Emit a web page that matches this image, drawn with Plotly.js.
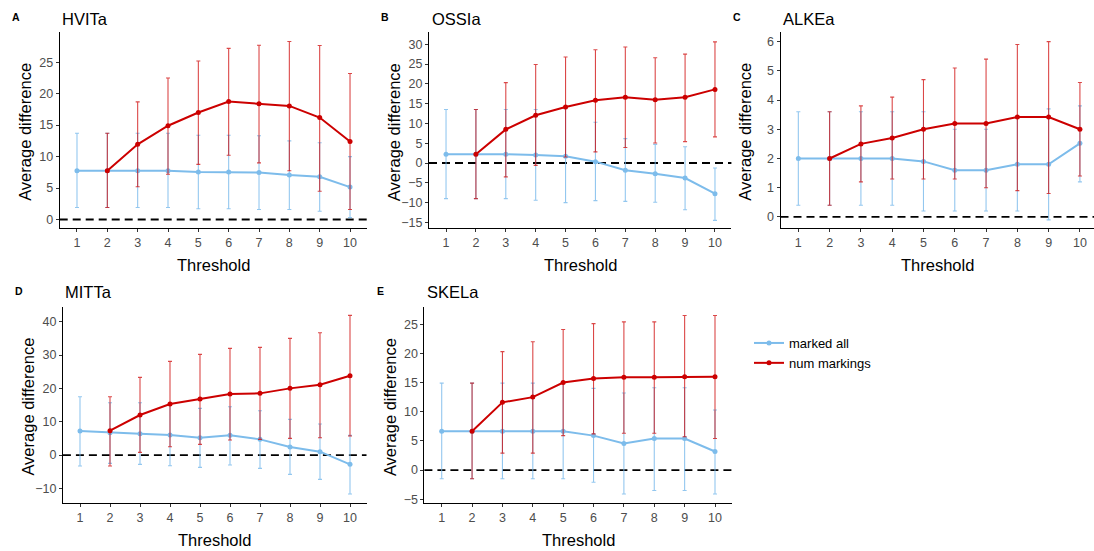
<!DOCTYPE html>
<html>
<head>
<meta charset="utf-8">
<script src="https://cdn.plot.ly/plotly-3.0.1.min.js"></script>
<style>
  html, body { margin: 0; padding: 0; background: #fff; }
  #chart { width: 1094px; height: 551px; }
</style>
</head>
<body>
<div id="chart"></div>
<script>
// ---- Data ----
const threshold = [1, 2, 3, 4, 5, 6, 7, 8, 9, 10];
const thresholdNum = [2, 3, 4, 5, 6, 7, 8, 9, 10];
const seriesNames = ["marked all", "num markings"];
const panelNames = ["HVITa", "OSSIa", "ALKEa", "MITTa", "SKELa"];
const panelLetters = ["A", "B", "C", "D", "E"];

// HVITa
const hvitaMarkedMean  = [7.75, 7.75, 7.75, 7.75, 7.54, 7.54, 7.48, 7.06, 6.8, 5.15];
const hvitaMarkedUpper = [13.7, 13.7, 13.7, 13.7, 13.4, 13.4, 13.3, 12.5, 12.2, 10.0];
const hvitaMarkedLower = [1.9, 1.9, 1.9, 1.9, 1.7, 1.7, 1.6, 1.6, 1.3, 0.3];
const hvitaNumMean  = [7.75, 11.94, 14.9, 17.0, 18.74, 18.4, 18.05, 16.2, 12.4];
const hvitaNumUpper = [13.7, 18.7, 22.5, 25.2, 27.2, 27.7, 28.3, 27.65, 23.2];
const hvitaNumLower = [1.9, 5.2, 7.2, 8.76, 10.2, 9.0, 7.75, 4.5, 1.6];

// OSSIa
const ossiaMarkedMean  = [2.2, 2.2, 2.2, 2.0, 1.7, 0.34, -1.85, -2.7, -3.8, -7.75];
const ossiaMarkedUpper = [13.5, 13.5, 13.5, 13.5, 13.7, 10.3, 6.15, 4.7, 4.1, -1.26];
const ossiaMarkedLower = [-9.0, -9.0, -9.0, -9.4, -10.0, -9.5, -9.7, -9.9, -11.8, -14.5];
const ossiaNumMean  = [2.2, 8.5, 12.05, 14.15, 15.84, 16.6, 16.0, 16.6, 18.6];
const ossiaNumUpper = [13.5, 20.3, 24.9, 26.8, 28.6, 29.3, 26.6, 27.5, 30.6];
const ossiaNumLower = [-9.0, -3.5, -0.6, 1.5, 2.8, 3.9, 5.05, 5.4, 6.6];

// ALKEa
const alkeaMarkedMean  = [2.0, 2.0, 2.0, 2.0, 1.9, 1.6, 1.6, 1.8, 1.8, 2.52];
const alkeaMarkedUpper = [3.6, 3.6, 3.6, 3.6, 3.6, 3.0, 3.0, 3.43, 3.7, 3.8];
const alkeaMarkedLower = [0.4, 0.4, 0.4, 0.4, 0.2, 0.2, 0.2, 0.2, -0.1, 1.2];
const alkeaNumMean  = [2.0, 2.5, 2.7, 3.0, 3.2, 3.2, 3.42, 3.42, 3.0];
const alkeaNumUpper = [3.6, 3.8, 4.1, 4.7, 5.1, 5.4, 5.9, 6.0, 4.6];
const alkeaNumLower = [0.4, 1.2, 1.3, 1.3, 1.3, 1.0, 0.9, 0.8, 1.4];

// MITTa
const mittaMarkedMean  = [7.2, 6.7, 6.4, 6.0, 5.2, 5.9, 4.7, 2.4, 1.0, -2.8];
const mittaMarkedUpper = [17.5, 15.7, 15.7, 15.2, 14.0, 14.5, 13.3, 10.7, 9.3, 5.9];
const mittaMarkedLower = [-3.3, -2.5, -2.8, -3.2, -3.7, -3.0, -4.0, -5.8, -7.3, -11.7];
const mittaNumMean  = [7.3, 12.0, 15.3, 16.8, 18.3, 18.5, 20.0, 21.1, 23.8];
const mittaNumUpper = [17.5, 23.3, 28.1, 30.2, 32.0, 32.3, 35.0, 36.7, 41.9];
const mittaNumLower = [-3.3, 0.8, 2.5, 3.2, 4.5, 4.7, 5.0, 5.2, 5.7];

// SKELa
const skelaMarkedMean  = [6.66, 6.66, 6.66, 6.66, 6.66, 5.9, 4.54, 5.4, 5.4, 3.17];
const skelaMarkedUpper = [14.9, 14.9, 14.9, 14.9, 14.9, 14.0, 13.2, 14.1, 14.1, 10.3];
const skelaMarkedLower = [-1.5, -1.5, -1.5, -1.5, -1.5, -2.1, -4.1, -3.5, -3.5, -4.1];
const skelaNumMean  = [6.66, 11.6, 12.5, 15.0, 15.7, 15.9, 15.9, 16.0, 16.0];
const skelaNumUpper = [14.9, 20.3, 22.0, 24.1, 25.1, 25.4, 25.4, 26.5, 26.5];
const skelaNumLower = [-1.5, 2.9, 2.9, 5.9, 6.2, 6.3, 6.3, 5.7, 5.4];

// ---- Styling / layout ----
const W = 1094, H = 551;
const FONT = "Liberation Sans, Arial, sans-serif";
const BLUE = "#7DBCEB";
const RED = "#CC0000";
const BLUE_ERR = "rgba(120,185,235,0.8)";
const RED_ERR = "rgba(205,0,0,0.72)";

const panels = [
  { marked: [hvitaMarkedMean, hvitaMarkedUpper, hvitaMarkedLower], num: [hvitaNumMean, hvitaNumUpper, hvitaNumLower],
    xpx: [59.7, 366.7], row: 0, yrange: [-1.4, 29.8], dtick: 5, xrange: [0.43, 10.55] },
  { marked: [ossiaMarkedMean, ossiaMarkedUpper, ossiaMarkedLower], num: [ossiaNumMean, ossiaNumUpper, ossiaNumLower],
    xpx: [429, 731.4], row: 0, yrange: [-16.5, 33.1], dtick: 5, xrange: [0.43, 10.55] },
  { marked: [alkeaMarkedMean, alkeaMarkedUpper, alkeaMarkedLower], num: [alkeaNumMean, alkeaNumUpper, alkeaNumLower],
    xpx: [780.5, 1094], row: 0, yrange: [-0.39, 6.33], dtick: 1, xrange: [0.43, 10.45] },
  { marked: [mittaMarkedMean, mittaMarkedUpper, mittaMarkedLower], num: [mittaNumMean, mittaNumUpper, mittaNumLower],
    xpx: [62.9, 366.5], row: 1, yrange: [-14.3, 44.5], dtick: 10, xrange: [0.43, 10.55] },
  { marked: [skelaMarkedMean, skelaMarkedUpper, skelaMarkedLower], num: [skelaNumMean, skelaNumUpper, skelaNumLower],
    xpx: [424.4, 731.7], row: 1, yrange: [-5.6, 28.0], dtick: 5, xrange: [0.43, 10.55] }
];
const rowsPx = [[32, 228.3], [306.7, 502.7]];

const diff = (a, b) => a.map((v, i) => v - b[i]);

const traces = [];
const layout = {
  width: W, height: H,
  margin: { l: 0, r: 0, t: 0, b: 0 },
  paper_bgcolor: "#fff", plot_bgcolor: "#fff",
  font: { family: FONT, color: "#000" },
  showlegend: true,
  legend: {
    x: 749 / W, y: 1 - 328 / H, xanchor: "left", yanchor: "top",
    font: { family: FONT, size: 13, color: "#000" },
    bgcolor: "rgba(0,0,0,0)", tracegroupgap: 0, itemwidth: 30
  },
  shapes: [], annotations: []
};

panels.forEach((p, k) => {
  const n = k + 1;
  const xa = "x" + (n === 1 ? "" : n), ya = "y" + (n === 1 ? "" : n);
  const [top, bot] = rowsPx[p.row];
  layout["xaxis" + (n === 1 ? "" : n)] = {
    domain: [p.xpx[0] / W, Math.min(1, p.xpx[1] / W)],
    anchor: ya, range: p.xrange, tickvals: threshold, ticktext: threshold.map(String),
    showgrid: false, zeroline: false, showline: true, linecolor: "#000", linewidth: 1,
    ticks: "outside", ticklen: 3, tickcolor: "#333", tickwidth: 1,
    tickfont: { family: FONT, size: 12.5, color: "#4D4D4D" }, fixedrange: true
  };
  layout["yaxis" + (n === 1 ? "" : n)] = {
    domain: [1 - bot / H, 1 - top / H],
    anchor: xa, range: p.yrange, dtick: p.dtick, tick0: 0,
    showgrid: false, zeroline: false, showline: true, linecolor: "#000", linewidth: 1,
    ticks: "outside", ticklen: 3, tickcolor: "#333", tickwidth: 1,
    tickfont: { family: FONT, size: 12.5, color: "#4D4D4D" }, fixedrange: true
  };

  // dashed zero reference line
  layout.shapes.push({
    type: "line", xref: xa + " domain", yref: ya, x0: 0, x1: 1, y0: 0, y1: 0,
    line: { color: "#000", width: 1.8, dash: "8px,5px" }, layer: "below"
  });

  traces.push({
    type: "scatter", mode: "lines+markers", x: threshold, y: p.marked[0],
    xaxis: xa, yaxis: ya, name: seriesNames[0], legendgroup: "m", showlegend: k === 0,
    line: { color: BLUE, width: 2 }, marker: { color: BLUE, size: 5 },
    error_y: { type: "data", symmetric: false, array: diff(p.marked[1], p.marked[0]),
      arrayminus: diff(p.marked[0], p.marked[2]), color: BLUE_ERR, thickness: 1.1, width: 2 }
  });
  traces.push({
    type: "scatter", mode: "lines+markers", x: thresholdNum, y: p.num[0],
    xaxis: xa, yaxis: ya, name: seriesNames[1], legendgroup: "n", showlegend: k === 0,
    line: { color: RED, width: 2 }, marker: { color: RED, size: 5 },
    error_y: { type: "data", symmetric: false, array: diff(p.num[1], p.num[0]),
      arrayminus: diff(p.num[0], p.num[2]), color: RED_ERR, thickness: 1.1, width: 2 }
  });

  const cx = (p.xpx[0] + Math.min(W, p.xpx[1])) / 2;
  const cxPlot = (p.xpx[0] + p.xpx[1]) / 2;
  const titleY = p.row === 0 ? 18.7 : 292.3;
  // panel letter
  layout.annotations.push({
    xref: "paper", yref: "paper", x: (p.xpx[0] - 44) / W, y: 1 - (titleY - 1.5) / H,
    xanchor: "center", yanchor: "middle", showarrow: false,
    text: "<b>" + panelLetters[k] + "</b>", font: { family: FONT, size: 10.5, color: "#000" }
  });
  // panel title
  layout.annotations.push({
    xref: "paper", yref: "paper", x: (p.xpx[0] + 0.5) / W, y: 1 - titleY / H,
    xanchor: "left", yanchor: "middle", showarrow: false,
    text: panelNames[k], font: { family: FONT, size: 16.5, color: "#000" }
  });
  // x axis title
  layout.annotations.push({
    xref: "paper", yref: "paper", x: cxPlot / W, y: 1 - (bot + 37) / H,
    xanchor: "center", yanchor: "middle", showarrow: false,
    text: "Threshold", font: { family: FONT, size: 16.5, color: "#000" }
  });
  // y axis title
  layout.annotations.push({
    xref: "paper", yref: "paper", x: (p.xpx[0] - 35) / W, y: 1 - ((top + bot) / 2 + 2) / H,
    xanchor: "center", yanchor: "middle", showarrow: false, textangle: -90,
    text: "Average difference", font: { family: FONT, size: 16.5, color: "#000" }
  });
});

Plotly.newPlot("chart", traces, layout, { staticPlot: true, displayModeBar: false });
</script>
</body>
</html>
